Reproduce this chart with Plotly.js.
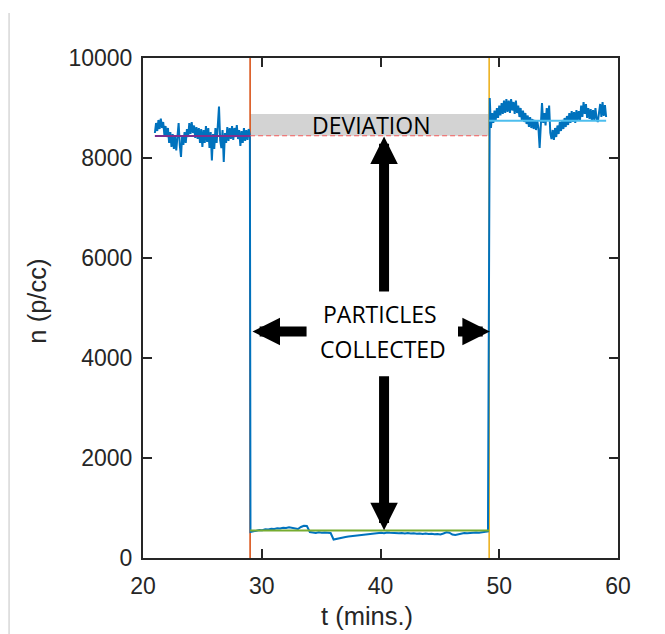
<!DOCTYPE html>
<html><head><meta charset="utf-8">
<script src="https://cdn.plot.ly/plotly-3.0.1.min.js"></script>
<style>html,body{margin:0;padding:0;background:#fff;} #chart{width:665px;height:634px;}</style>
</head><body><div id="chart"></div>
<script>
// ---- data ----
const xTicks = [20, 30, 40, 50, 60];
const yTicks = [0, 2000, 4000, 6000, 8000, 10000];

// before filter (t from 21.0, every 0.1 min)
const tStartBefore = 21.0, tStepBefore = 0.1;
const nBefore = [8500,8700,8540,8760,8580,8790,8600,8720,8460,8640,
  8420,8600,8300,8520,8220,8480,8180,8420,8150,8450,
  8700,8250,8020,8460,8260,8520,8300,8580,8420,8700,
  8480,8720,8500,8650,8400,8620,8380,8600,8300,8580,
  8220,8560,8300,8640,8320,8600,8200,8520,7950,8480,
  8180,8600,8300,8650,9030,8350,8200,8560,7920,8500,
  8300,8620,8340,8600,8380,8640,8360,8600,8420,8660,
  8380,8560,8240,8540,8300,8600,8340,8560,8360,8580,8460];

// during collection (t from 29.05, every 0.25 min)
const tStartDuring = 29.05, tStepDuring = 0.25;
const nDuring = [520,540,545,560,555,575,570,585,580,595,
  590,605,600,615,605,595,580,620,645,640,
  520,510,500,515,505,512,508,500,370,385,
  400,410,420,428,435,440,450,455,465,470,
  478,485,490,500,505,495,510,505,498,505,
  495,502,490,500,488,495,485,492,480,490,
  478,485,475,482,470,490,515,505,470,460,
  478,490,500,495,505,500,510,505,515,520,530];

// after filter (t from 49.2, every 0.1 min)
const tStartAfter = 49.2, tStepAfter = 0.1;
const nAfter = [9200,8600,8900,8700,8950,8750,9000,8800,9050,8850,
  9100,8880,9150,8900,9180,8920,9150,8900,9180,8950,
  9120,8880,9150,8900,9050,8820,9000,8760,8950,8720,
  8900,8680,8850,8620,8820,8600,8780,8580,8760,8560,
  8740,8600,8200,8750,9100,8700,8900,8650,9000,8750,
  9050,8500,8380,8560,8360,8600,8420,8650,8480,8720,
  8540,8760,8580,8800,8620,8840,8660,8900,8700,8940,
  8720,8920,8700,8960,8740,8940,8760,9050,8820,9120,
  8880,9080,8800,9000,8780,8980,8740,8960,8760,9000,
  8780,8720,8960,9080,8820,9120,8840,9060,8820];

const tFilterOn = 29.02, tFilterOff = 49.15;
const meanBefore = 8440, meanDuring = 550, meanAfter = 8745;
const tMeanBefore = [21.0, 29.02], tMeanDuring = [29.02, 49.15], tMeanAfter = [49.15, 59.0];
const deviationLow = 8445, deviationHigh = 8880;
const yFull = [0, 10000];

// ---- build ----
const grid = (start, step, arr) => arr.map((_, i) => +(start + i * step).toFixed(3));
const tAll = grid(tStartBefore, tStepBefore, nBefore)
  .concat(grid(tStartDuring, tStepDuring, nDuring))
  .concat(grid(tStartAfter, tStepAfter, nAfter));
const nAll = nBefore.concat(nDuring, nAfter);

const C = {blue:'#0072BD', orange:'#D95319', yellow:'#EDB120', purple:'#7E2F8E', green:'#77AC30', cyan:'#4DBEEE'};

const traces = [
  {x: [tFilterOn, tFilterOn], y: yFull, mode:'lines', line:{color:C.orange, width:1.6}},
  {x: [tFilterOff, tFilterOff], y: yFull, mode:'lines', line:{color:C.yellow, width:1.6}},
  {x: tAll, y: nAll, mode:'lines', line:{color:C.blue, width:2}},
  {x: tMeanBefore, y: [meanBefore, meanBefore], mode:'lines', line:{color:C.purple, width:2}},
  {x: tMeanDuring, y: [meanDuring, meanDuring], mode:'lines', line:{color:C.green, width:2}},
  {x: tMeanAfter, y: [meanAfter, meanAfter], mode:'lines', line:{color:C.cyan, width:2}}
];

const tickFont = {family:'Liberation Sans, Arial, sans-serif', size:23, color:'#262626'};
const noteFont = {family:'Open Sans, sans-serif', size:23, color:'#000'};
const axisCommon = {
  showgrid:false, zeroline:false, showline:true, linecolor:'#262626', linewidth:2,
  mirror:'ticks', ticks:'inside', ticklen:9, tickwidth:2, tickcolor:'#262626',
  tickfont: tickFont, tickmode:'array', fixedrange:true
};

function arrow(xTip, yTip, xTail, yTail) {
  return {x:xTip, y:yTip, ax:xTail, ay:yTail, xref:'x', yref:'y', axref:'x', ayref:'y',
    text:'', showarrow:true, arrowhead:2, arrowsize:0.55, arrowwidth:10, arrowcolor:'#000', standoff:0};
}

const layout = {
  width:665, height:634,
  margin:{l:143, r:47, t:58, b:76, pad:0},
  paper_bgcolor:'#fff', plot_bgcolor:'#fff',
  showlegend:false,
  xaxis: Object.assign({}, axisCommon, {range:[20,60], tickvals:xTicks, ticktext:xTicks.map(String), ticklabelstandoff:6}),
  yaxis: Object.assign({}, axisCommon, {range:[0,10000], tickvals:yTicks, ticktext:yTicks.map(String), ticklabelstandoff:4}),
  shapes: [
    {type:'rect', xref:'x', yref:'y', x0:tFilterOn, x1:tFilterOff, y0:deviationLow, y1:deviationHigh,
     fillcolor:'#d3d3d3', line:{width:0}, layer:'below'},
    {type:'line', xref:'x', yref:'y', x0:tFilterOn, x1:tFilterOff, y0:deviationLow, y1:deviationLow,
     line:{color:'#f25a5a', width:1.2, dash:'5px,3px'}},
    {type:'line', xref:'paper', yref:'paper', x0:-0.282, x1:-0.282, y0:-0.16, y1:1.09,
     line:{color:'#c4c4c4', width:1}}
  ],
  annotations: [
    {x:39.2, y:8660, xref:'x', yref:'y', text:'DEVIATION', showarrow:false, font:noteFont},
    {x:39.95, y:4885, xref:'x', yref:'y', text:'PARTICLES', showarrow:false, font:noteFont},
    {x:40.2, y:4186, xref:'x', yref:'y', text:'COLLECTED', showarrow:false, font:noteFont},
    arrow(40.3, 8430, 40.3, 5300),
    arrow(40.3, 555, 40.3, 3666),
    arrow(29.22, 4532, 33.9, 4532),
    arrow(49.21, 4532, 46.4, 4532),
    {x:38.9, y:-0.115, xref:'x', yref:'paper', text:'t (mins.)', showarrow:false,
     font:{family:'Liberation Sans, Arial, sans-serif', size:25.5, color:'#262626'}, yanchor:'middle'},
    {x:-0.225, y:0.513, xref:'paper', yref:'paper', text:'n (p/cc)', showarrow:false, textangle:-90,
     font:{family:'Liberation Sans, Arial, sans-serif', size:25.5, color:'#262626'}, xanchor:'center', yanchor:'middle'}
  ]
};

Plotly.newPlot('chart', traces, layout, {staticPlot:true, displayModeBar:false});
</script>
</body></html>
